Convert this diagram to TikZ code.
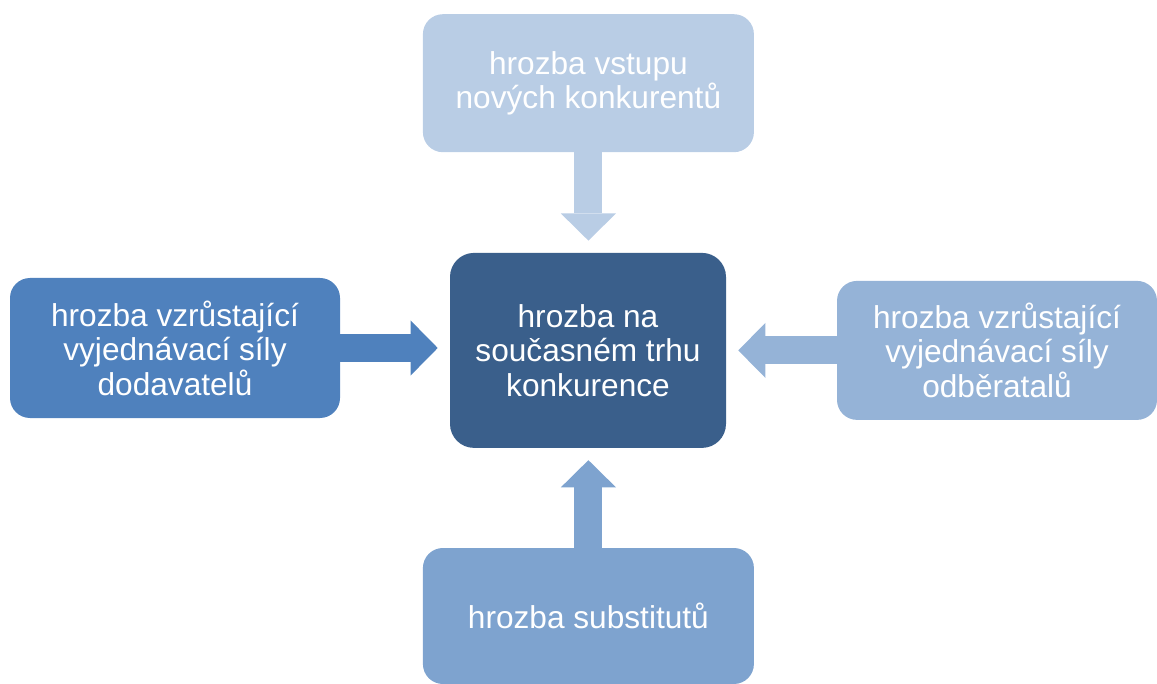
\documentclass[tikz,border=0pt]{standalone}
\usepackage{fontspec}
\setmainfont{Liberation Sans}
\usepackage{xcolor}
\usetikzlibrary{arrows.meta, positioning}
\definecolor{core}{HTML}{3A5F8B}
\definecolor{supplier}{HTML}{4F81BD}
\definecolor{buyer}{HTML}{95B3D7}
\definecolor{entrant}{HTML}{B9CDE5}
\definecolor{substitute}{HTML}{7EA3CF}
\tikzset{
    % Base box style
    force/.style={
        rectangle,
        rounded corners=0.5cm,
        fill=#1,
        draw=none,
        align=center,
        text=white,
        inner sep=0pt,
        font=\fontsize{22.5}{24.5}\selectfont
    },
    % Block arrow style
    push/.style={
        -{Triangle[length=0.68cm, width=1.38cm, line width=0pt]},
        line width=0.7cm,
        color=#1,
        shorten >=0.3cm
    }
}
\begin{document}
\begin{tikzpicture}
    \useasboundingbox (0,0) rectangle (28.925,-17.1);

    % Center
    \node[force=core, rounded corners=0.6cm, minimum width=6.9cm, minimum height=4.875cm] (ctr) at (14.7, -8.76) {hrozba na\\současném trhu\\konkurence};

    % Forces
    \node[force=entrant, minimum width=8.275cm, minimum height=3.45cm] (ent) at (14.71, -2.08) {hrozba vstupu\\nových konkurentů};
    \node[force=supplier, minimum width=8.25cm, minimum height=3.5cm] (sup) at (4.375, -8.7) {hrozba vzrůstající\\vyjednávací síly\\dodavatelů};
    \node[force=buyer, minimum width=8cm, minimum height=3.475cm] (buy) at (24.925, -8.76) {hrozba vzrůstající\\vyjednávací síly\\odběratalů};
    \node[force=substitute, minimum width=8.275cm, minimum height=3.4cm] (subst) at (14.71, -15.4) {hrozba substitutů};

    % Connections
    \draw[push=entrant] (ent.south) -- (ent.south |- ctr.north);
    \draw[push=supplier] (sup.east) -- (sup.east -| ctr.west);
    \draw[push=buyer] (buy.west) -- (buy.west -| ctr.east);
    \draw[push=substitute] (subst.north) -- (subst.north |- ctr.south);

\end{tikzpicture}
\end{document}
